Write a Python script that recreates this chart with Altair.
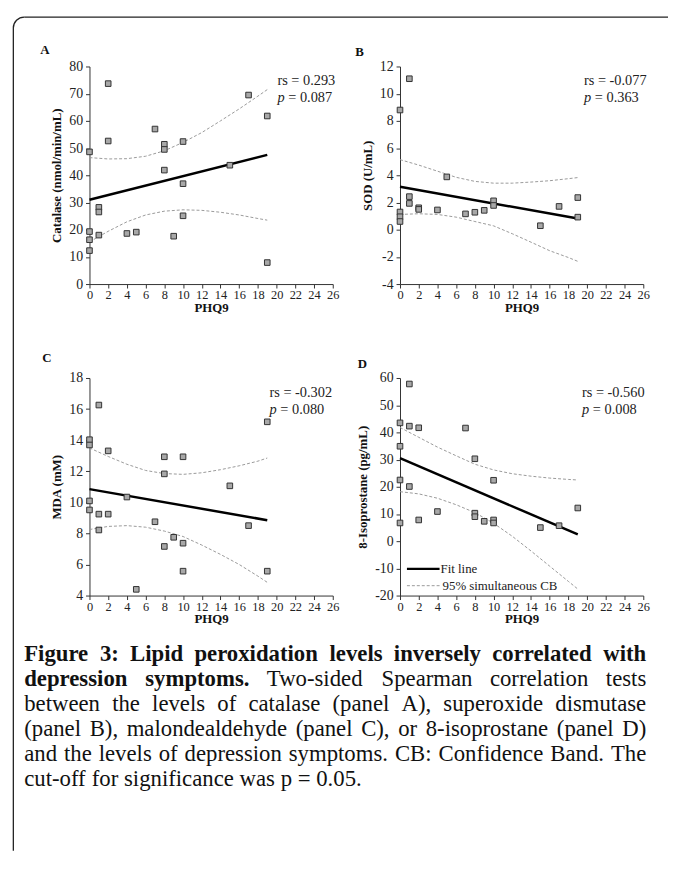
import altair as alt
import pandas as pd

SERIF = "Liberation Serif"

# ---------------- data ----------------
band_x = [0, 2, 4, 6, 8, 10, 12, 14, 16, 18, 19]
fit_x = [0, 19]

# Panel A: Catalase
a_x = [0, 0, 0, 0, 1, 1, 1, 2, 2, 4, 5, 7, 8, 8, 8, 9, 10, 10, 10, 15, 17, 19, 19]
a_y = [48.6, 19.3, 16.3, 12.3, 28.2, 26.5, 18.0, 73.7, 52.6, 18.6, 19.1, 57.0,
       51.4, 49.5, 41.9, 17.6, 52.4, 36.9, 25.1, 43.7, 69.5, 61.8, 7.9]
a_upper = [46.5, 46.0, 46.1, 47.0, 49.0, 52.1, 55.7, 60.0, 64.4, 69.1, 71.5]
a_lower = [15.5, 19.4, 22.9, 25.4, 26.8, 27.3, 27.1, 26.4, 25.4, 24.1, 23.5]
a_fit = [31.0, 47.5]

# Panel B: SOD
b_x = [0, 0, 0, 0, 1, 1, 1, 2, 2, 4, 5, 7, 8, 9, 10, 10, 15, 17, 19, 19]
b_y = [8.8, 1.3, 0.95, 0.6, 11.1, 2.43, 1.93, 1.61, 1.49, 1.45, 3.88, 1.16,
       1.28, 1.42, 2.12, 1.78, 0.29, 1.71, 2.36, 0.92]
b_upper = [5.15, 4.75, 4.3, 3.85, 3.55, 3.42, 3.42, 3.5, 3.6, 3.75, 3.83]
b_lower = [1.12, 1.17, 1.12, 0.92, 0.6, 0.28, -0.3, -0.92, -1.55, -2.05, -2.33]
b_fit = [3.15, 0.82]

# Panel C: MDA
c_x = [0, 0, 0, 0, 1, 1, 1, 2, 2, 4, 5, 7, 8, 8, 8, 9, 10, 10, 10, 15, 17, 19, 19]
c_y = [14.03, 13.69, 10.09, 9.51, 16.26, 9.24, 8.22, 13.31, 9.24, 10.34, 4.40,
       8.75, 12.93, 11.83, 7.16, 7.75, 12.93, 7.37, 5.57, 11.06, 8.50, 15.18, 5.57]
c_upper = [13.5, 12.95, 12.45, 12.05, 11.85, 11.8, 11.9, 12.1, 12.35, 12.65, 12.85]
c_lower = [8.25, 8.45, 8.5, 8.4, 8.15, 7.8, 7.25, 6.65, 6.0, 5.25, 4.85]
c_fit = [10.85, 8.85]

# Panel D: 8-Isoprostane
d_x = [0, 0, 0, 0, 1, 1, 1, 2, 2, 4, 7, 8, 8, 8, 9, 10, 10, 10, 15, 17, 19]
d_y = [43.5, 34.9, 22.5, 6.7, 57.8, 42.3, 20.1, 41.7, 7.8, 10.9, 41.6, 30.3,
       10.3, 9.0, 7.3, 22.4, 7.8, 6.7, 5.0, 5.7, 12.2]
d_upper = [41.8, 38.2, 34.6, 31.4, 28.3, 26.2, 24.8, 23.9, 23.2, 22.7, 22.5]
d_lower = [18.2, 17.4, 15.8, 13.4, 10.5, 6.6, 1.8, -3.6, -9.2, -14.8, -17.6]
d_fit = [30.5, 2.5]

x_ticks = list(range(0, 27, 2))

caption_lines = [
    [("Figure 3: Lipid peroxidation levels inversely correlated with", True)],
    [("depression symptoms.", True), ("Two-sided Spearman correlation tests", False)],
    [("between the levels of catalase (panel A), superoxide dismutase", False)],
    [("(panel B), malondealdehyde (panel C), or 8-isoprostane (panel D)", False)],
    [("and the levels of depression symptoms. CB: Confidence Band. The", False)],
    [("cut-off for significance was p = 0.05.", False)],
]
caption_justify = [True, True, True, True, True, False]

# ---------------- helpers ----------------
W, H = 246, 220

REG = {' ': 250, '(': 333, ')': 333, ',': 250, '-': 333, '.': 250, ':': 278, '=': 564,
       'A': 722, 'B': 667, 'C': 667, 'D': 722, 'T': 611, 'S': 556, 'F': 556}
for ch in '0123456789':
    REG[ch] = 500
REG.update(dict(a=444, b=500, c=444, d=500, e=444, f=333, g=500, h=500, i=278, j=278,
                k=500, l=278, m=778, n=500, o=500, p=500, q=500, r=333, s=389, t=278,
                u=500, v=500, w=722, x=500, y=500, z=444))
BOLD = {' ': 250, ':': 333, '.': 250, '3': 500, 'F': 611, 'L': 667}
BOLD.update(dict(a=500, b=556, c=444, d=556, e=444, f=333, g=500, h=556, i=278, k=556,
                 l=278, m=833, n=556, o=500, p=556, r=444, s=389, t=333, u=556, v=500,
                 w=722, x=500, y=500, z=444))


def word_width(word, bold, size):
    table = BOLD if bold else REG
    return sum(table.get(ch, 500) for ch in word) * size / 1000.0


def panel(px, py, upper, lower, fy, ytitle, ydom, ystep, letter, let_xy, rs, pval,
          ann_x, legend=False):
    n = len(band_x)
    pts = pd.DataFrame({"PHQ9": px, "v": py})
    band = pd.DataFrame({"PHQ9": band_x + band_x, "v": upper + lower,
                         "side": ["upper"] * n + ["lower"] * n})
    fit = pd.DataFrame({"PHQ9": fit_x, "v": fy})
    one = pd.DataFrame({"k": [0]})

    xs = alt.Scale(domain=[0, 26], nice=False, zero=False)
    ys = alt.Scale(domain=ydom, nice=False, zero=False)
    xax = alt.Axis(values=x_ticks, title="PHQ9", labelFontSize=12.5, titleFontSize=13,
                   titleFontWeight="bold", labelPadding=1, titlePadding=0,
                   labelOverlap=False, labelFlush=False, labelBound=False,
                   labelExpr="'' + datum.value")
    yax = alt.Axis(values=list(range(ydom[0], ydom[1] + 1, ystep)), title=ytitle,
                   labelFontSize=14, titleFontSize=13, titleFontWeight="bold",
                   labelPadding=3, titlePadding=5, labelOverlap=False,
                   labelFlush=False, labelBound=False,
                   labelExpr="'' + datum.value")
    X = alt.X("PHQ9:Q", scale=xs, axis=xax)
    Y = alt.Y("v:Q", scale=ys, axis=yax)

    band_l = alt.Chart(band).mark_line(color="#9a9a9a", strokeWidth=1,
                                       strokeDash=[3, 2]).encode(
        x=X, y=Y, detail="side:N")
    fit_l = alt.Chart(fit).mark_line(color="black", strokeWidth=2.5).encode(x=X, y=Y)
    pts_l = alt.Chart(pts).mark_square(size=32, fill="#a8a8a8", stroke="#333333",
                                      strokeWidth=1, opacity=1).encode(x=X, y=Y)

    txt = dict(font=SERIF, fontSize=14.5, color="#222222", align="left",
               baseline="middle")
    rs_t = alt.Chart(one).mark_text(text=rs, **txt).encode(
        x=alt.value(ann_x), y=alt.value(15))
    p_t = alt.Chart(one).mark_text(text="p", fontStyle="italic", **txt).encode(
        x=alt.value(ann_x), y=alt.value(32))
    pv_t = alt.Chart(one).mark_text(text="= " + pval, **txt).encode(
        x=alt.value(ann_x + 11), y=alt.value(32))
    let_t = alt.Chart(one).mark_text(text=letter, font=SERIF, fontSize=13,
                                     fontWeight="bold", color="#111111",
                                     align="center", baseline="middle").encode(
        x=alt.value(let_xy[0]), y=alt.value(let_xy[1]))

    layers = [band_l, fit_l, pts_l, rs_t, p_t, pv_t, let_t]
    if legend:
        layers.append(alt.Chart(one).mark_rule(color="black", strokeWidth=2.5).encode(
            x=alt.value(7), x2=alt.value(40), y=alt.value(193)))
        layers.append(alt.Chart(one).mark_rule(color="#9a9a9a", strokeWidth=1,
                                               strokeDash=[3, 2]).encode(
            x=alt.value(7), x2=alt.value(40), y=alt.value(210)))
        lt = dict(font=SERIF, fontSize=13, color="#222222", align="left",
                  baseline="middle")
        layers.append(alt.Chart(one).mark_text(text="Fit line", **lt).encode(
            x=alt.value(41), y=alt.value(193)))
        layers.append(alt.Chart(one).mark_text(text="95% simultaneous CB", **lt).encode(
            x=alt.value(43), y=alt.value(210)))
    return alt.layer(*layers).properties(width=W, height=H)


pA = panel(a_x, a_y, a_upper, a_lower, a_fit, "Catalase (nmol/min/mL)", [0, 80], 10,
           "A", (-45, -17), "rs = 0.293", "0.087", 190)
pB = panel(b_x, b_y, b_upper, b_lower, b_fit, "SOD (U/mL)", [-4, 12], 2,
           "B", (-41, -15), "rs = -0.077", "0.363", 186)
pC = panel(c_x, c_y, c_upper, c_lower, c_fit, "MDA (mM)", [4, 18], 2,
           "C", (-43, -20), "rs = -0.302", "0.080", 182)
pD = panel(d_x, d_y, d_upper, d_lower, d_fit, "8-Isoprostane (pg/mL)", [-20, 60], 10,
           "D", (-38, -14), "rs = -0.560", "0.008", 184, legend=True)

# ---------------- caption + frame (pixel layout relative to this view) ----------------
CAP_SIZE = 23
LEFT, RIGHT = 24 - 90, 653 - 90
rows = []
for i, (segs, just) in enumerate(zip(caption_lines, caption_justify)):
    words = []
    for text, bold in segs:
        words += [(w, bold) for w in text.split(" ")]
    widths = [word_width(w, b, CAP_SIZE) for w, b in words]
    if just and len(words) > 1:
        gap = (RIGHT - LEFT - sum(widths)) / (len(words) - 1)
    else:
        gap = 250 * CAP_SIZE / 1000.0
    xpos = LEFT
    for (w, b), wd in zip(words, widths):
        rows.append({"word": w, "px": xpos, "py": -36 + 25.4 * i, "bold": b})
        xpos += wd + gap
cap = pd.DataFrame(rows)
one = pd.DataFrame({"k": [0]})

ctext = dict(font=SERIF, fontSize=CAP_SIZE, color="#111111", align="left",
             baseline="middle")
cap_bold = alt.Chart(cap).transform_filter("datum.bold").mark_text(
    fontWeight="bold", **ctext).encode(
    x=alt.X("px:Q", scale=None), y=alt.Y("py:Q", scale=None), text="word:N")
cap_reg = alt.Chart(cap).transform_filter("!datum.bold").mark_text(**ctext).encode(
    x=alt.X("px:Q", scale=None), y=alt.Y("py:Q", scale=None), text="word:N")

FL, FT, R = -77, -680, 11
frame_top = alt.Chart(one).mark_rule(color="#222222", strokeWidth=1.3).encode(
    x=alt.value(FL + R), x2=alt.value(585), y=alt.value(FT))
frame_left = alt.Chart(one).mark_rule(color="#222222", strokeWidth=1.3).encode(
    x=alt.value(FL), y=alt.value(FT + R), y2=alt.value(163))
frame_arc = alt.Chart(one).mark_arc(radius=R + 0.65, radius2=R - 0.65,
                                    theta=4.712389, theta2=6.283185,
                                    color="#222222").encode(
    x=alt.value(FL + R), y=alt.value(FT + R))

caption = alt.layer(frame_top, frame_left, frame_arc, cap_bold, cap_reg).properties(
    width=W, height=10)

chart = alt.concat(pA, pB, pC, pD, caption, columns=2,
                   spacing={"row": 95, "column": 68}, bounds="flush").properties(
    padding={"left": 4.4, "top": 3.4, "right": 0, "bottom": 0}
).configure_view(stroke=None).configure_axis(
    grid=False, domainColor="#333333", tickColor="#333333", domainWidth=1,
    tickSize=4, labelColor="#222222", titleColor="#111111",
    labelFont=SERIF, titleFont=SERIF, labelOverlap=False)

chart.save("out.html", embed_options={"renderer": "svg", "actions": False})
